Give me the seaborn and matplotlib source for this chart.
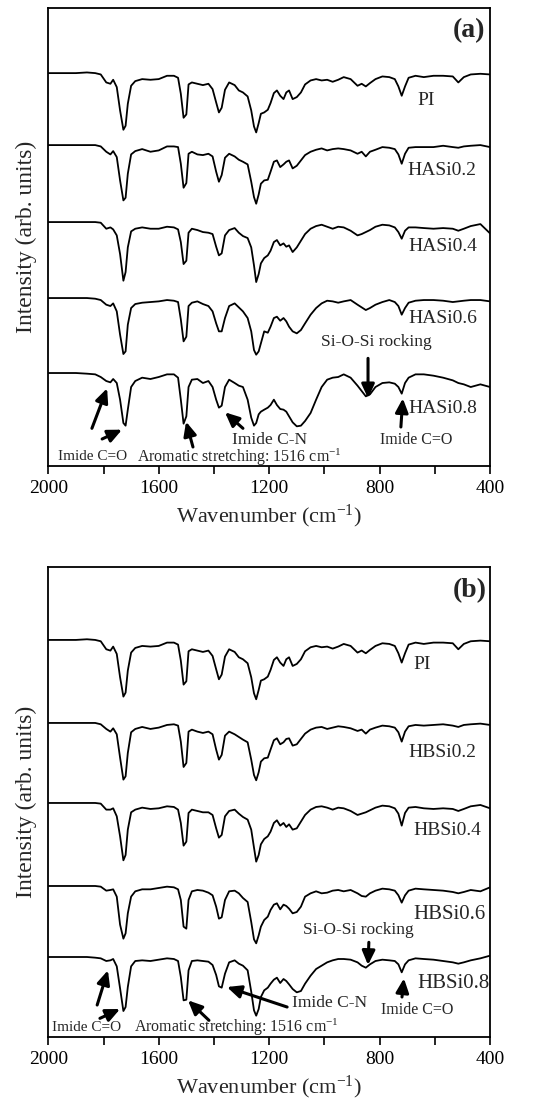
"""
FTIR spectra of PI and the hybrid films, two stacked panels (a) and (b).
I read the curves off the picture on one shared wavenumber grid.
"""

import numpy as np
import pandas as pd
import matplotlib
matplotlib.use("Agg")
import matplotlib.pyplot as plt
import seaborn as sns

# shared wavenumber grid (cm-1)
wavenumber = [2000, 1900, 1860, 1830, 1810, 1790, 1775, 1765, 1752, 1740,
              1728, 1720, 1712, 1700, 1685, 1660, 1630, 1600, 1570, 1545,
              1530, 1520, 1510, 1500, 1492, 1480, 1460, 1440, 1420, 1405,
              1392, 1382, 1372, 1360, 1345, 1325, 1310, 1295, 1278, 1265,
              1255, 1247, 1238, 1230, 1218, 1205, 1195, 1183, 1172, 1160,
              1148, 1138, 1128, 1115, 1100, 1085, 1070, 1050, 1030, 1010,
              990, 970, 950, 930, 905, 880, 865, 850, 835, 815,
              790, 765, 745, 732, 720, 708, 695, 670, 640, 605,
              570, 535, 515, 495, 470, 435, 400]

# transmittance-like values (a.u.), one list per film
pi_film = [100, 100, 101, 100, 98, 86, 84, 90, 79, 44, 15, 21, 54, 81, 88, 91, 90, 91, 96, 96,
           93, 69, 33, 38, 83, 86, 84, 82, 84, 76, 56, 41, 48, 75, 86, 82, 74, 71, 65, 44,
           20, 11, 25, 39, 41, 45, 55, 70, 74, 66, 61, 71, 74, 61, 64, 71, 83, 89, 91, 89,
           90, 87, 90, 94, 91, 81, 84, 80, 85, 91, 95, 94, 91, 80, 66, 80, 93, 96, 94, 96,
           96, 95, 86, 94, 98, 99, 98]
hasi02 = [100, 100, 100, 100, 98, 90, 86, 91, 82, 47, 17, 21, 57, 86, 91, 94, 90, 92, 98, 98,
          97, 72, 36, 43, 87, 90, 86, 85, 87, 83, 60, 45, 55, 81, 87, 83, 78, 75, 71, 45,
          22, 12, 26, 42, 47, 48, 60, 75, 77, 67, 71, 75, 77, 65, 69, 77, 85, 90, 93, 95,
          92, 94, 95, 94, 92, 87, 90, 83, 90, 93, 97, 96, 94, 86, 72, 87, 96, 97, 97, 97,
          99, 97, 96, 98, 99, 100, 97]
hasi04 = [100, 100, 100, 100, 99, 90, 92, 89, 80, 52, 12, 25, 62, 86, 90, 92, 90, 90, 93, 92,
          89, 70, 37, 42, 84, 90, 88, 85, 84, 82, 63, 50, 53, 80, 88, 91, 84, 79, 76, 62,
          35, 10, 22, 38, 46, 50, 57, 70, 73, 65, 68, 63, 65, 55, 62, 72, 82, 90, 94, 96,
          93, 90, 93, 92, 87, 80, 82, 85, 88, 93, 96, 95, 92, 85, 75, 87, 92, 92, 91, 90,
          91, 90, 87, 90, 94, 97, 83]
hasi06 = [100, 100, 100, 99, 97, 90, 88, 92, 80, 45, 16, 20, 60, 85, 91, 93, 94, 95, 97, 96,
          94, 68, 35, 42, 88, 93, 95, 91, 88, 80, 62, 50, 50, 70, 88, 92, 86, 80, 70, 50,
          22, 15, 20, 32, 50, 48, 57, 70, 72, 66, 70, 65, 57, 50, 47, 52, 62, 75, 85, 92,
          96, 95, 93, 95, 97, 90, 86, 82, 85, 90, 94, 97, 94, 88, 75, 85, 93, 96, 97, 97,
          96, 94, 95, 96, 97, 97, 95]
hasi08 = [100, 100, 99, 98, 94, 88, 86, 91, 85, 60, 25, 21, 45, 79, 88, 93, 91, 94, 98, 98,
          93, 60, 24, 35, 79, 90, 91, 85, 88, 79, 60, 48, 51, 79, 90, 85, 81, 79, 60, 33,
          21, 25, 38, 42, 45, 48, 52, 60, 52, 46, 45, 42, 35, 26, 20, 21, 28, 40, 60, 79,
          90, 93, 94, 98, 93, 81, 73, 65, 68, 79, 85, 86, 84, 79, 69, 85, 93, 98, 98, 96,
          93, 89, 85, 83, 79, 83, 79]
hbsi02 = [100, 100, 100, 100, 98, 91, 87, 92, 83, 48, 15, 20, 55, 86, 91, 94, 91, 93, 97, 98,
          96, 72, 34, 40, 87, 90, 87, 85, 87, 83, 60, 45, 52, 81, 87, 83, 79, 75, 71, 45,
          22, 14, 26, 42, 47, 48, 60, 74, 77, 68, 71, 76, 77, 66, 68, 76, 84, 90, 93, 94,
          91, 93, 95, 94, 92, 88, 90, 84, 90, 93, 96, 95, 93, 86, 72, 87, 95, 97, 96, 97,
          98, 96, 94, 97, 98, 99, 97]
hbsi04 = [100, 100, 100, 100, 99, 90, 90, 92, 80, 50, 14, 22, 60, 86, 90, 93, 91, 92, 95, 94,
          90, 70, 36, 42, 85, 90, 88, 86, 86, 82, 62, 48, 52, 80, 88, 90, 84, 79, 75, 60,
          33, 12, 22, 38, 46, 50, 57, 70, 74, 66, 70, 64, 68, 60, 62, 72, 82, 90, 94, 95,
          93, 90, 93, 92, 88, 82, 84, 86, 89, 93, 96, 95, 92, 84, 66, 85, 93, 94, 92, 91,
          92, 91, 88, 91, 95, 97, 92]
hbsi06 = [100, 100, 100, 100, 99, 93, 94, 95, 84, 42, 21, 29, 59, 84, 92, 95, 95, 97, 99, 98,
          95, 79, 39, 36, 79, 92, 94, 93, 90, 86, 69, 51, 53, 79, 92, 93, 89, 82, 76, 46,
          20, 14, 26, 39, 49, 54, 64, 72, 74, 65, 72, 70, 66, 59, 61, 69, 84, 89, 92, 89,
          90, 93, 94, 92, 94, 89, 85, 84, 89, 93, 96, 95, 93, 86, 75, 86, 93, 96, 95, 94,
          93, 91, 89, 91, 94, 92, 98]
hbsi08 = [100, 100, 100, 99, 98, 94, 95, 97, 86, 53, 19, 25, 55, 86, 94, 95, 94, 96, 98, 97,
          94, 70, 35, 36, 80, 94, 95, 94, 93, 88, 73, 56, 54, 75, 92, 95, 90, 87, 80, 48,
          20, 12, 22, 40, 50, 54, 60, 66, 69, 61, 67, 64, 59, 52, 47, 49, 60, 72, 82, 87,
          92, 95, 97, 97, 96, 92, 87, 84, 89, 94, 96, 95, 94, 89, 77, 89, 95, 98, 97, 96,
          94, 92, 90, 92, 95, 98, 102]

names_a = ["PI", "HASi0.2", "HASi0.4", "HASi0.6", "HASi0.8"]
names_b = ["PI", "HBSi0.2", "HBSi0.4", "HBSi0.6", "HBSi0.8"]
spectra_a = [pi_film, hasi02, hasi04, hasi06, hasi08]
spectra_b = [pi_film, hbsi02, hbsi04, hbsi06, hbsi08]
# vertical stacking shift of each trace
shift_a = [450, 342, 226.5, 112.5, 0]
shift_b = [475.5, 351, 231, 106.5, 0]

sns.set_theme(style="ticks")
plt.rcParams["font.family"] = ["Liberation Serif", "DejaVu Serif"]
plt.rcParams["mathtext.fontset"] = "custom"
plt.rcParams["mathtext.rm"] = "Liberation Serif"
plt.rcParams["mathtext.it"] = "Liberation Serif:italic"


def make_frame(names, spectra, shifts):
    rows = []
    for nm, vals, sh in zip(names, spectra, shifts):
        for w, v in zip(wavenumber, vals):
            rows.append({"wavenumber": w, "intensity": v + sh, "sample": nm})
    return pd.DataFrame(rows)


def style_axis(ax, ylim):
    ax.set_xlim(2000, 400)
    ax.set_ylim(*ylim)
    ax.set_xticks([2000, 1600, 1200, 800, 400])
    ax.set_xticks([1800, 1400, 1000, 600], minor=True)
    ax.set_yticks([])
    ax.tick_params(axis="x", which="both", direction="out", length=6, width=1.2,
                   labelsize=14, colors="black", pad=4)
    for sp in ax.spines.values():
        sp.set_visible(True)
        sp.set_linewidth(1.3)
        sp.set_color("black")
    ax.set_xlabel("Wavenumber (cm$^{-1}$)", fontsize=16, labelpad=4)
    ax.set_ylabel("Intensity (arb. units)", fontsize=17, labelpad=8)


def arrow(ax, tip, tail):
    ax.annotate("", xy=tip, xytext=tail,
                arrowprops=dict(arrowstyle="-|>,head_length=0.7,head_width=0.32",
                                lw=2.2, color="black", shrinkA=0, shrinkB=0))


fig = plt.figure(figsize=(5.55, 11.14), dpi=100)
ax_a = fig.add_axes([0.087, 0.5817, 0.796, 0.411])
ax_b = fig.add_axes([0.087, 0.0691, 0.796, 0.422])

df_a = make_frame(names_a, spectra_a, shift_a)
df_b = make_frame(names_b, spectra_b, shift_b)

sns.lineplot(data=df_a, x="wavenumber", y="intensity", units="sample", estimator=None,
             sort=False, color="black", linewidth=1.3, ax=ax_a)
sns.lineplot(data=df_b, x="wavenumber", y="intensity", units="sample", estimator=None,
             sort=False, color="black", linewidth=1.3, ax=ax_b)

style_axis(ax_a, (-39.5, 647.5))
style_axis(ax_b, (-20, 685))

# ---- panel (a) texts
ax_a.text(418, 614, "(a)", fontsize=20, fontweight="bold", ha="right", va="center")
ax_a.text(665, 509, "PI", fontsize=14, ha="left", va="center")
ax_a.text(701, 404, "HASi0.2", fontsize=14, ha="left", va="center")
ax_a.text(694, 290, "HASi0.4", fontsize=14, ha="left", va="center")
ax_a.text(694, 182, "HASi0.6", fontsize=14, ha="left", va="center")
ax_a.text(694, 47, "HASi0.8", fontsize=14, ha="left", va="center")
ax_a.text(1840, -26, "Imide C=O", fontsize=11, ha="center", va="center")
ax_a.text(1306, -26, "Aromatic stretching: 1516 cm$^{-1}$", fontsize=11.5, ha="center", va="center")
ax_a.text(1197, 0, "Imide C-N", fontsize=12.5, ha="center", va="center")
ax_a.text(668, 0, "Imide C=O", fontsize=11.5, ha="center", va="center")
ax_a.text(813, 146, "Si-O-Si rocking", fontsize=12.5, ha="center", va="center")

arrow(ax_a, (1787, 77), (1842, 17))
arrow(ax_a, (1733, 15), (1805, 1))
arrow(ax_a, (1501, 27), (1476, -11))
arrow(ax_a, (1360, 41), (1295, 17))
arrow(ax_a, (842, 62), (842, 122))
arrow(ax_a, (716, 62), (723, 19))

# ---- panel (b) texts
ax_b.text(411, 650, "(b)", fontsize=20, fontweight="bold", ha="right", va="center")
ax_b.text(679, 538, "PI", fontsize=14, ha="left", va="center")
ax_b.text(694, 407, "HBSi0.2", fontsize=14, ha="left", va="center")
ax_b.text(679, 290, "HBSi0.4", fontsize=14, ha="left", va="center")
ax_b.text(679, 163, "HBSi0.6", fontsize=15, ha="left", va="center")
ax_b.text(665, 61, "HBSi0.8", fontsize=15, ha="left", va="center")
ax_b.text(1860, -6, "Imide C=O", fontsize=11, ha="center", va="center")
ax_b.text(1317, -5, "Aromatic stretching: 1516 cm$^{-1}$", fontsize=11.5, ha="center", va="center")
ax_b.text(982, 31, "Imide C-N", fontsize=12.5, ha="center", va="center")
ax_b.text(665, 20, "Imide C=O", fontsize=11.5, ha="center", va="center")
ax_b.text(878, 140, "Si-O-Si rocking", fontsize=12.5, ha="center", va="center")

arrow(ax_b, (1784, 80), (1823, 28))
arrow(ax_b, (1740, 22), (1813, 8))
arrow(ax_b, (1494, 35), (1418, 5))
arrow(ax_b, (1353, 55), (1135, 25))
arrow(ax_b, (842, 88), (839, 122))
arrow(ax_b, (712, 68), (719, 40))

fig.savefig("out.png", dpi=100, facecolor="white")
